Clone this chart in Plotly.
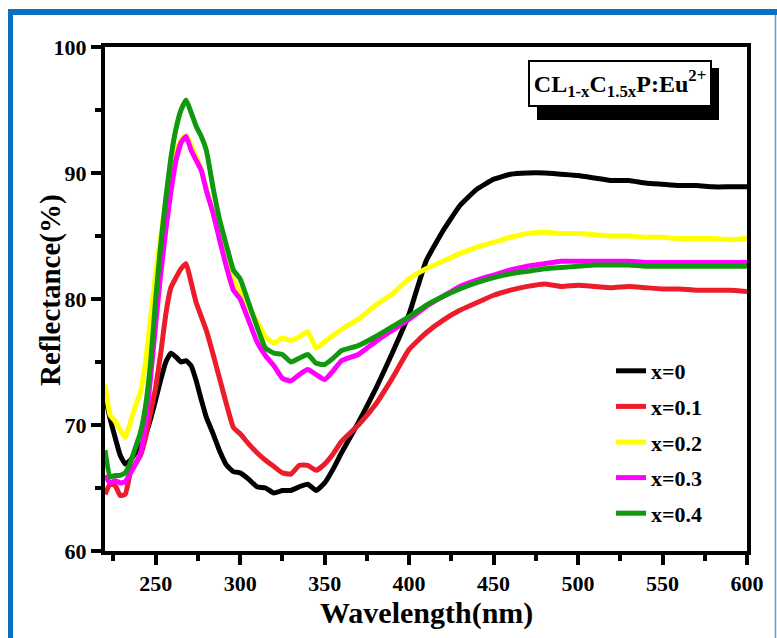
import plotly.graph_objects as go

# Diffuse reflectance spectra of CL(1-x)C(1.5x)P:Eu2+ phosphors
wavelength = [220, 223, 226, 229, 232, 235, 238, 241, 244, 247, 250, 253, 256, 259, 262,
              265, 268, 271, 274, 277, 280, 284, 288, 292, 296, 300, 305, 310, 315, 320,
              325, 330, 335, 340, 345, 350, 355, 360, 370, 380, 390, 400, 410, 420, 430,
              440, 450, 460, 470, 480, 490, 500, 510, 520, 530, 540, 550, 560, 570, 580,
              590, 600]

refl_x0 = [72.3, 70.5, 69.0, 67.6, 66.9, 67.2, 67.8, 68.3, 69.2, 70.5, 72.0, 73.6, 75.0, 75.7, 75.4,
           75.0, 75.1, 74.7, 73.5, 72.0, 70.6, 69.3, 67.9, 66.8, 66.3, 66.2, 65.7, 65.1, 65.0, 64.6,
           64.8, 64.8, 65.1, 65.3, 64.8, 65.4, 66.5, 67.8, 70.2, 72.8, 75.7, 78.8, 83.0, 85.4, 87.4,
           88.7, 89.5, 89.9, 90.0, 90.0, 89.9, 89.8, 89.6, 89.4, 89.4, 89.2, 89.1, 89.0, 89.0, 88.9,
           88.9, 88.9]

refl_x01 = [64.5, 65.3, 65.2, 64.4, 64.5, 66.2, 66.9, 67.6, 69.0, 71.0, 73.0, 75.7, 78.8, 80.9, 81.7,
            82.4, 82.8, 81.3, 79.7, 78.6, 77.5, 75.6, 73.6, 71.6, 69.8, 69.3, 68.5, 67.8, 67.2, 66.7,
            66.2, 66.1, 66.8, 66.8, 66.4, 66.9, 67.7, 68.7, 70.0, 71.6, 73.7, 76.0, 77.3, 78.3, 79.1,
            79.7, 80.3, 80.7, 81.0, 81.2, 81.0, 81.1, 81.0, 80.9, 81.0, 80.9, 80.8, 80.8, 80.7, 80.7,
            80.7, 80.6]

refl_x02 = [73.2, 70.8, 70.3, 69.6, 69.0, 70.2, 71.5, 72.6, 75.0, 78.5, 82.0, 85.0, 87.8, 90.0, 91.6,
            92.6, 93.0, 92.2, 91.3, 90.3, 88.8, 86.8, 84.8, 82.8, 81.5, 80.6, 79.3, 78.2, 77.0, 76.5,
            76.9, 76.7, 77.0, 77.4, 76.1, 76.6, 77.1, 77.6, 78.4, 79.5, 80.4, 81.6, 82.4, 83.0, 83.6,
            84.1, 84.5, 84.9, 85.2, 85.3, 85.2, 85.2, 85.1, 85.0, 85.0, 84.9, 84.9, 84.8, 84.8, 84.8,
            84.7, 84.8]

refl_x03 = [66.0, 65.4, 65.6, 65.4, 65.5, 66.2, 66.9, 67.8, 70.0, 73.8, 78.0, 82.0, 85.5, 88.5, 91.0,
            92.4, 92.9, 91.8, 91.0, 90.2, 88.6, 86.8, 84.6, 82.5, 80.7, 80.0, 78.3, 76.6, 75.5, 74.7,
            73.7, 73.5, 74.0, 74.4, 74.0, 73.6, 74.3, 75.1, 75.6, 76.6, 77.5, 78.4, 79.4, 80.2, 81.0,
            81.5, 81.9, 82.3, 82.6, 82.8, 83.0, 83.0, 83.0, 83.0, 83.0, 82.9, 82.9, 82.9, 82.9, 82.9,
            82.9, 82.9]

refl_x04 = [68.0, 65.9, 66.0, 66.0, 66.2, 67.0, 68.2, 69.4, 71.5, 75.0, 80.0, 84.3, 88.0, 91.2, 93.5,
            95.0, 95.8, 94.8, 93.7, 92.9, 91.8, 88.8, 86.2, 84.2, 82.3, 81.6, 79.7, 77.8, 76.1, 75.7,
            75.6, 75.0, 75.3, 75.6, 74.9, 74.8, 75.3, 75.9, 76.3, 77.0, 77.8, 78.6, 79.5, 80.2, 80.8,
            81.3, 81.7, 82.0, 82.2, 82.4, 82.5, 82.6, 82.7, 82.7, 82.7, 82.6, 82.6, 82.6, 82.6, 82.6,
            82.6, 82.6]

series_names = ["x=0", "x=0.1", "x=0.2", "x=0.3", "x=0.4"]
series_values = [refl_x0, refl_x01, refl_x02, refl_x03, refl_x04]
series_colors = ["#000000", "#ec1c2a", "#ffff00", "#ff00ff", "#10990f"]

x_ticks = [250, 300, 350, 400, 450, 500, 550, 600]
y_ticks = [60, 70, 80, 90, 100]

W, H = 777, 638
ML, MR, MT, MB = 105, 30, 47, 87
PW, PH = W - ML - MR, H - MT - MB


def px(xp):
    return (xp - ML) / PW


def py(yp):
    return (H - MB - yp) / PH


FONT = "Times New Roman, Liberation Serif, serif"

fig = go.Figure()
for name, vals, col in zip(series_names, series_values, series_colors):
    fig.add_trace(go.Scatter(
        x=wavelength, y=vals, mode="lines", name=name, legendgroup=name,
        line=dict(color=col, width=5, shape="spline", smoothing=0.4),
    ))

axis_common = dict(
    showline=True, linewidth=4, linecolor="black", mirror=True,
    ticks="outside", ticklen=10, tickwidth=4, tickcolor="black",
    showgrid=False, zeroline=False,
    tickfont=dict(family=FONT, size=22, color="black", weight="bold"),
)

fig.update_xaxes(
    range=[220, 600], tickvals=x_ticks,
    minor=dict(ticks="outside", dtick=25, tick0=0, ticklen=6, tickwidth=4, tickcolor="black"),
    **axis_common,
)
fig.update_yaxes(
    range=[60, 100], tickvals=y_ticks,
    minor=dict(ticks="outside", dtick=5, tick0=0, ticklen=6, tickwidth=4, tickcolor="black"),
    **axis_common,
)

shapes = [
    # drop shadow behind the composition label
    dict(type="rect", xref="paper", yref="paper", layer="below",
         x0=px(537), x1=px(719), y0=py(120), y1=py(68),
         fillcolor="black", line=dict(width=0)),
    # blue frame around the figure
    dict(type="line", xref="paper", yref="paper", x0=px(8), x1=px(777), y0=py(12), y1=py(12),
         line=dict(color="#0b6fc4", width=6)),
    dict(type="line", xref="paper", yref="paper", x0=px(10.5), x1=px(10.5), y0=py(9), y1=py(640),
         line=dict(color="#0b6fc4", width=5)),
    dict(type="line", xref="paper", yref="paper", x0=px(775.5), x1=px(775.5), y0=py(15), y1=py(640),
         line=dict(color="#5aa0dc", width=1.5)),
]

annotations = [
    dict(x=px(620), y=py(83.5), xref="paper", yref="paper", showarrow=False,
         xanchor="center", yanchor="middle",
         width=180, height=43, align="center", valign="middle",
         bgcolor="white", bordercolor="black", borderwidth=2, borderpad=0,
         text="CL<sub>1-x</sub>C<sub>1.5x</sub>P:Eu<sup>2+</sup>",
         font=dict(family=FONT, size=24, color="black", weight="bold")),
    # axis titles
    dict(x=px(427), y=py(613), xref="paper", yref="paper", showarrow=False,
         xanchor="center", yanchor="middle", text="Wavelength(nm)",
         font=dict(family=FONT, size=30, color="black", weight="bold")),
    dict(x=px(50), y=py(290), xref="paper", yref="paper", showarrow=False,
         xanchor="center", yanchor="middle", textangle=-90, text="Reflectance(%)",
         font=dict(family=FONT, size=29, color="black", weight="bold")),
]

fig.update_layout(
    width=W, height=H,
    margin=dict(l=ML, r=MR, t=MT, b=MB, autoexpand=False),
    paper_bgcolor="white", plot_bgcolor="rgba(0,0,0,0)",
    shapes=shapes,
    showlegend=True,
    legend=dict(
        x=px(611), y=py(350), xanchor="left", yanchor="top",
        bgcolor="rgba(0,0,0,0)", borderwidth=0,
        font=dict(family=FONT, size=22, color="black", weight="bold"),
        tracegroupgap=4, itemwidth=30,
    ),
    annotations=annotations,
)

fig.write_html("out.html")
